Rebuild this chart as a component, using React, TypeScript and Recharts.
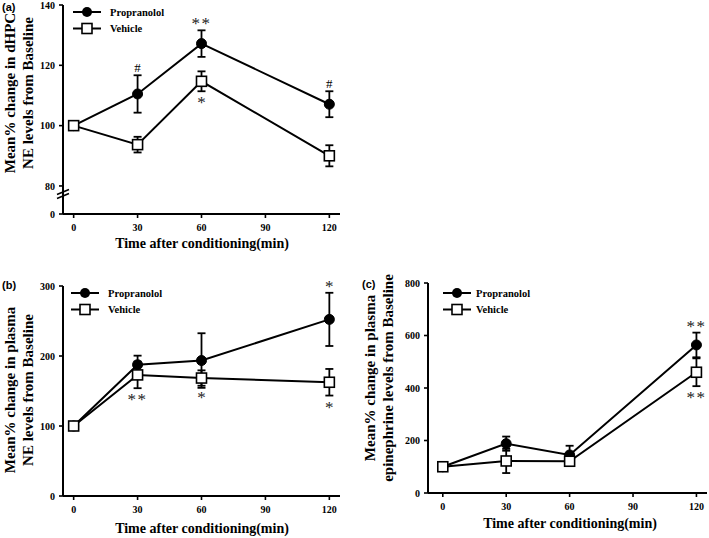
import React from 'react';
import { LineChart, Line, XAxis, YAxis, ErrorBar, ReferenceDot } from 'recharts';

// ---------- data ----------
const timePoints = [0, 30, 60, 120];
const xTicks = [0, 30, 60, 90, 120];

// (a) dHPC NE
const aPropranolol = [100, 110.5, 127.2, 107.1];
const aPropranololErr = [0, 6.2, 4.4, 4.3];
const aVehicle = [100, 93.7, 114.7, 90.0];
const aVehicleErr = [0, 2.6, 3.3, 3.5];
const aYTicks = [70.7, 80, 100, 120, 140]; // 70.7 = position of "0" below the axis break
const aYTickLabels = ['0', '80', '100', '120', '140'];

// (b) plasma NE
const bPropranolol = [100, 187.5, 193.5, 252.3];
const bPropranololErr = [0, 13, 39, 38];
const bVehicle = [100, 173, 168.5, 162.5];
const bVehicleErr = [0, 19, 11, 19];
const bYTicks = [0, 100, 200, 300];
const bYTickLabels = ['0', '100', '200', '300'];

// (c) plasma epinephrine
const cPropranolol = [100, 188, 145, 564];
const cPropranololErr = [0, 27, 35, 47];
const cVehicle = [100, 122, 121, 460];
const cVehicleErr = [0, 46, 10, 53];
const cYTicks = [0, 200, 400, 600, 800];
const cYTickLabels = ['0', '200', '400', '600', '800'];

type Ann = { x: number; series: 'prop' | 'veh'; text: string; side: 'above' | 'below' };
const aAnnotations: Ann[] = [
  { x: 30, series: 'prop', text: '#', side: 'above' },
  { x: 60, series: 'prop', text: '**', side: 'above' },
  { x: 60, series: 'veh', text: '*', side: 'below' },
  { x: 120, series: 'prop', text: '#', side: 'above' },
];
const bAnnotations: Ann[] = [
  { x: 120, series: 'prop', text: '*', side: 'above' },
  { x: 30, series: 'veh', text: '**', side: 'below' },
  { x: 60, series: 'veh', text: '*', side: 'below' },
  { x: 120, series: 'veh', text: '*', side: 'below' },
];
const cAnnotations: Ann[] = [
  { x: 120, series: 'prop', text: '**', side: 'above' },
  { x: 120, series: 'veh', text: '**', side: 'below' },
];

const legendNames = ['Propranolol', 'Vehicle'];
const xTitle = 'Time after conditioning(min)';

// ---------- styles ----------
const SERIF = "'Liberation Serif', 'Times New Roman', Times, serif";
const SANS = "'Liberation Sans', Arial, sans-serif";

function CircleDot(props: any) {
  const { cx, cy } = props;
  if (cx == null || cy == null) return <g />;
  return <circle cx={cx} cy={cy} r={5} fill="#000" stroke="#000" strokeWidth={1} />;
}
function SquareDot(props: any) {
  const { cx, cy } = props;
  if (cx == null || cy == null) return <g />;
  return <rect x={cx - 5} y={cy - 5} width={10} height={10} fill="#fff" stroke="#000" strokeWidth={1.6} />;
}

type PanelCfg = {
  left: number; top: number; width: number; height: number;
  marginTop: number; marginRight: number; yAxisWidth: number; xAxisHeight: number;
  xDomain: [number, number]; yDomain: [number, number];
  yTicks: number[]; yTickLabels: string[];
  prop: number[]; propErr: number[]; veh: number[]; vehErr: number[];
  anns: Ann[];
  label: string; labelX: number; labelY: number;
  yTitle: [string, string]; yTitleX: [number, number]; yTitleY: number;
  xTitleX: number; xTitleY: number;
  legendX: number; legendY: number; legendTextX: number;
  axisBreak?: number;
};

function Panel(cfg: PanelCfg) {
  const data = timePoints.map((t, i) => ({
    t,
    prop: cfg.prop[i],
    propErr: cfg.propErr[i],
    veh: cfg.veh[i],
    vehErr: cfg.vehErr[i],
  }));
  const axisLine = { stroke: '#000', strokeWidth: 2 };
  const tickLine = { stroke: '#000', strokeWidth: 1.6 };
  const tickStyle = { fill: '#000', fontSize: 10, fontWeight: 'bold' as const, fontFamily: SERIF };

  return (
    <div style={{ position: 'absolute', left: cfg.left, top: cfg.top, width: cfg.width, height: cfg.height }}>
      <LineChart
        width={cfg.width}
        height={cfg.height}
        data={data}
        margin={{ top: cfg.marginTop, right: cfg.marginRight, bottom: 0, left: 0 }}
      >
        <XAxis
          dataKey="t"
          type="number"
          domain={cfg.xDomain}
          ticks={xTicks}
          height={cfg.xAxisHeight}
          axisLine={axisLine}
          tickLine={tickLine}
          tickSize={4}
          tickMargin={6}
          tick={tickStyle}
          interval={0}
        />
        <YAxis
          type="number"
          domain={cfg.yDomain}
          ticks={cfg.yTicks}
          width={cfg.yAxisWidth}
          axisLine={axisLine}
          tickLine={tickLine}
          tickSize={4}
          tickMargin={4}
          tick={tickStyle}
          interval={0}
          tickFormatter={(v: number) => {
            const i = cfg.yTicks.indexOf(v);
            return i >= 0 ? cfg.yTickLabels[i] : String(v);
          }}
        />
        <Line
          dataKey="prop"
          type="linear"
          stroke="#000"
          strokeWidth={2}
          dot={CircleDot}
          activeDot={false}
          isAnimationActive={false}
        >
          <ErrorBar dataKey="propErr" width={4} stroke="#000" strokeWidth={1.8} direction="y" isAnimationActive={false} />
        </Line>
        <Line
          dataKey="veh"
          type="linear"
          stroke="#000"
          strokeWidth={2}
          dot={SquareDot}
          activeDot={false}
          isAnimationActive={false}
        >
          <ErrorBar dataKey="vehErr" width={4} stroke="#000" strokeWidth={1.8} direction="y" isAnimationActive={false} />
        </Line>
        {cfg.anns.map((a, k) => {
          const idx = timePoints.indexOf(a.x);
          const v = a.series === 'prop' ? cfg.prop[idx] : cfg.veh[idx];
          const e = a.series === 'prop' ? cfg.propErr[idx] : cfg.vehErr[idx];
          const yv = a.side === 'above' ? v + e : v - e;
          const isHash = a.text === '#';
          const dy = a.side === 'above' ? (isHash ? -3 : -1) : 17;
          return (
            <ReferenceDot
              key={'ann' + k}
              x={a.x}
              y={yv}
              r={0}
              ifOverflow="visible"
              shape={(p: any) => (
                <text
                  x={p.cx}
                  y={p.cy + dy}
                  textAnchor="middle"
                  fontFamily={SERIF}
                  fontSize={isHash ? 13 : 17}
                  fill={isHash ? '#000' : '#222'}
                  letterSpacing={a.text.length > 1 ? 1.5 : 0}
                >
                  {a.text}
                </text>
              )}
            />
          );
        })}
        {cfg.axisBreak != null && (
          <ReferenceDot
            x={cfg.xDomain[0]}
            y={cfg.axisBreak}
            r={0}
            ifOverflow="visible"
            shape={(p: any) => (
              <g stroke="#000" strokeWidth={1.6}>
                <line x1={p.cx - 6} y1={p.cy + 1} x2={p.cx + 6} y2={p.cy - 4} />
                <line x1={p.cx - 6} y1={p.cy + 5} x2={p.cx + 6} y2={p.cy} />
              </g>
            )}
          />
        )}
      </LineChart>
      <svg
        width={cfg.width}
        height={cfg.height}
        style={{ position: 'absolute', left: 0, top: 0, pointerEvents: 'none' }}
      >
        <text x={cfg.labelX} y={cfg.labelY} fontFamily={SANS} fontWeight="bold" fontSize={11} fill="#000">
          {cfg.label}
        </text>
        {cfg.yTitle.map((t, i) => (
          <text
            key={i}
            x={cfg.yTitleX[i]}
            y={cfg.yTitleY}
            transform={`rotate(-90, ${cfg.yTitleX[i]}, ${cfg.yTitleY})`}
            textAnchor="middle"
            fontFamily={SERIF}
            fontWeight="bold"
            fontSize={15}
            fill="#000"
          >
            {t}
          </text>
        ))}
        <text
          x={cfg.xTitleX}
          y={cfg.xTitleY}
          textAnchor="middle"
          fontFamily={SERIF}
          fontWeight="bold"
          fontSize={14}
          fill="#000"
        >
          {xTitle}
        </text>
        {legendNames.map((n, i) => {
          const y = cfg.legendY + i * 16.5;
          const x0 = cfg.legendX;
          return (
            <g key={n}>
              <line x1={x0} y1={y} x2={x0 + 28} y2={y} stroke="#000" strokeWidth={2} />
              {i === 0 ? (
                <circle cx={x0 + 14} cy={y} r={5} fill="#000" />
              ) : (
                <rect x={x0 + 9} y={y - 5} width={10} height={10} fill="#fff" stroke="#000" strokeWidth={1.6} />
              )}
              <text
                x={cfg.legendTextX}
                y={y + 3.5}
                fontFamily={SERIF}
                fontWeight="bold"
                fontSize={10.5}
                fill="#000"
              >
                {n}
              </text>
            </g>
          );
        })}
      </svg>
    </div>
  );
}

export default function App() {
  return (
    <div style={{ position: 'absolute', left: 0, top: 0, width: 709, height: 538, background: '#fff' }}>
      <Panel
        left={0} top={0} width={360} height={260}
        marginTop={5} marginRight={20} yAxisWidth={63} xAxisHeight={46}
        xDomain={[-5, 125]} yDomain={[70.7, 140]}
        yTicks={aYTicks} yTickLabels={aYTickLabels}
        prop={aPropranolol} propErr={aPropranololErr} veh={aVehicle} vehErr={aVehicleErr}
        anns={aAnnotations}
        label="(a)" labelX={2} labelY={11}
        yTitle={['Mean% change in dHPC', 'NE levels from Baseline']} yTitleX={[15, 33]} yTitleY={93}
        xTitleX={202} xTitleY={248}
        legendX={73} legendY={12} legendTextX={110}
        axisBreak={77.5}
      />
      <Panel
        left={0} top={270} width={360} height={268}
        marginTop={16} marginRight={20} yAxisWidth={63} xAxisHeight={42}
        xDomain={[-5, 125]} yDomain={[0, 300]}
        yTicks={bYTicks} yTickLabels={bYTickLabels}
        prop={bPropranolol} propErr={bPropranololErr} veh={bVehicle} vehErr={bVehicleErr}
        anns={bAnnotations}
        label="(b)" labelX={2} labelY={19}
        yTitle={['Mean% change in plasma', 'NE levels from Baseline']} yTitleX={[15, 33]} yTitleY={120}
        xTitleX={202} xTitleY={263}
        legendX={71} legendY={23} legendTextX={108}
        />
      <Panel
        left={360} top={270} width={349} height={268}
        marginTop={13} marginRight={2} yAxisWidth={68} xAxisHeight={45}
        xDomain={[-7, 125]} yDomain={[0, 800]}
        yTicks={cYTicks} yTickLabels={cYTickLabels}
        prop={cPropranolol} propErr={cPropranololErr} veh={cVehicle} vehErr={cVehicleErr}
        anns={cAnnotations}
        label="(c)" labelX={2} labelY={18}
        yTitle={['Mean% change in plasma', 'epinephrine levels from Baseline']} yTitleX={[15, 33]} yTitleY={108}
        xTitleX={210} xTitleY={258}
        legendX={83} legendY={23} legendTextX={116}
      />
    </div>
  );
}
